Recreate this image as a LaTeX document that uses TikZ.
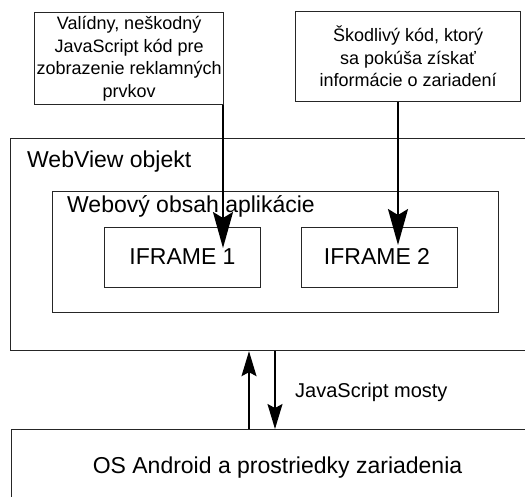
\documentclass[tikz,border=0pt]{standalone}
\usepackage{fontspec}
\setmainfont{Liberation Sans}
\usetikzlibrary{arrows.meta}
\begin{document}
\begin{tikzpicture}[x=1pt,y=-1pt,
  frame/.style={draw=black!85, line width=1.2pt, inner sep=0pt, anchor=north west},
  note/.style={frame, font=\fontsize{18}{22.5}\selectfont, align=center},
  lbl/.style={font=\fontsize{23}{27}\selectfont, inner sep=0pt},
  bigarrow/.style={line width=2pt, -{Stealth[length=36pt,width=20pt,inset=6pt]}},
  bridge/.style={line width=1.4pt, -{Stealth[length=25pt,width=15pt,inset=4pt]}}]
\useasboundingbox (0,0) rectangle (525,496);
\clip (0,0) rectangle (525,496);

% containers
\node[frame, minimum width=540pt, minimum height=212pt] (webview) at (10,138) {};
\node[frame, minimum width=446pt, minimum height=121pt] (content) at (52,191) {};
\node[frame, minimum width=156pt, minimum height=60pt] (iframeA) at (104,227) {};
\node[frame, minimum width=156pt, minimum height=60pt] (iframeB) at (301,227) {};
\node[frame, minimum width=540pt, minimum height=90pt] (android) at (11,429) {};

% code sources
\node[note, minimum width=189pt, minimum height=92pt] (good) at (34,12)
  {Valídny, neškodný\\JavaScript kód pre\\zobrazenie reklamných\\prvkov};
\node[note, minimum width=225pt, minimum height=90pt] (evil) at (295,11)
  {Škodlivý kód, ktorý\\sa pokúša získať\\informácie o zariadení};

% labels
\node[lbl, anchor=base west] (webviewLbl) at (27,167) {WebView objekt};
\node[lbl, anchor=base west] (contentLbl) at (67,212) {Webový obsah aplikácie};
\node[lbl, anchor=base] (iframeALbl) at (182.5,264) {IFRAME 1};
\node[lbl, anchor=base] (iframeBLbl) at (377,264) {IFRAME 2};
\node[lbl, anchor=base] (androidLbl) at (277.5,473) {OS Android a prostriedky zariadenia};
\node[lbl, font=\fontsize{20}{24}\selectfont, anchor=base west] (bridgeLbl) at (295,397) {JavaScript mosty};

% injected code
\coordinate (tipA) at (223,248);
\coordinate (tipB) at (398,245);
\draw[bigarrow] (good.south -| tipA) -- (tipA);
\draw[bigarrow] (evil.south -| tipB) -- (tipB);

% bridges between WebView and Android
\coordinate (upX) at (249,0);
\coordinate (downX) at (275,0);
\draw[bridge] (android.north -| upX) -- (webview.south -| upX);
\draw[bridge] (webview.south -| downX) -- (android.north -| downX);
\end{tikzpicture}
\end{document}
